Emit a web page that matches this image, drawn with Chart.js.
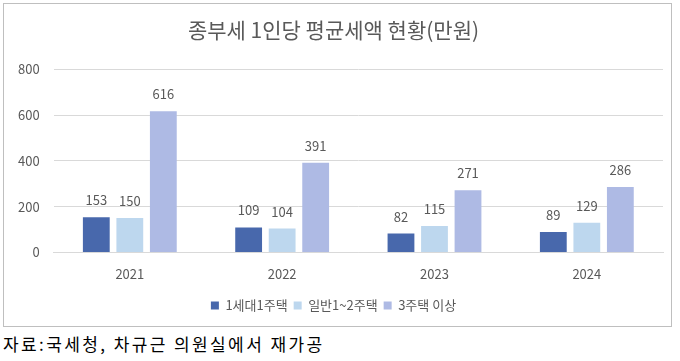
<!DOCTYPE html>
<html>
<head>
<meta charset="utf-8">
<script src="https://cdn.jsdelivr.net/npm/chart.js@4"></script>
<style>
  body { margin: 0; background: #fff; width: 680px; height: 361px; position: relative; overflow: hidden; }
  #box { position: absolute; left: 3px; top: 3px; width: 669px; height: 324px; border: 1px solid #BFBFBF; box-sizing: border-box; }
  #caption { position: absolute; left: 3px; top: 331px; font-family: "Noto Sans CJK KR", sans-serif; font-size: 17px; color: #000; letter-spacing: 2.4px; }
</style>
</head>
<body>
<div id="box"><canvas id="chart"></canvas></div>
<div id="caption">자료:국세청, 차규근 의원실에서 재가공</div>
<script>
// chart data
const years = ['2021', '2022', '2023', '2024'];
const seriesNames = ['1세대1주택', '일반1~2주택', '3주택 이상'];
const oneHouse = [153, 109, 82, 89];
const twoHouses = [150, 104, 115, 129];
const threePlus = [616, 391, 271, 286];
const yTicks = [0, 200, 400, 600, 800];

const colors = ['#4868AC', '#BDD7EE', '#AEBAE4'];
const fontFamily = '"Noto Sans CJK KR", "Noto Sans", sans-serif';

// draws the value above each bar
const valueLabels = {
    id: 'valueLabels',
    afterDatasetsDraw: function(chart) {
        const ctx = chart.ctx;
        ctx.save();
        ctx.font = '13px ' + fontFamily;
        ctx.fillStyle = '#595959';
        ctx.textAlign = 'center';
        ctx.textBaseline = 'middle';
        chart.data.datasets.forEach(function(ds, i) {
            chart.getDatasetMeta(i).data.forEach(function(bar, j) {
                ctx.fillText(ds.data[j], bar.x, bar.y - 17);
            });
        });
        ctx.restore();
    }
};

const ctx = document.getElementById('chart').getContext('2d');
new Chart(ctx, {
    type: 'bar',
    data: {
        labels: years,
        datasets: [
            { label: seriesNames[0], data: oneHouse, backgroundColor: colors[0] },
            { label: seriesNames[1], data: twoHouses, backgroundColor: colors[1] },
            { label: seriesNames[2], data: threePlus, backgroundColor: colors[2] }
        ]
    },
    options: {
        responsive: true,
        maintainAspectRatio: false,
        animation: false,
        layout: { padding: { left: 0, right: 8, top: 5, bottom: 4 } },
        datasets: { bar: { categoryPercentage: 0.66, barPercentage: 0.8 } },
        scales: {
            x: {
                grid: { display: false },
                border: { color: '#D9D9D9' },
                ticks: { color: '#595959', font: { family: fontFamily, size: 13 }, padding: 6 },
                afterFit: function(axis) { axis.height += 5; }
            },
            y: {
                min: 0,
                max: 800,
                afterBuildTicks: function(axis) {
                    axis.ticks = yTicks.map(function(v) { return { value: v }; });
                },
                grid: { color: '#D9D9D9', drawTicks: false },
                border: { display: false },
                ticks: { color: '#595959', font: { family: fontFamily, size: 13 }, padding: 14 }
            }
        },
        plugins: {
            title: {
                display: true,
                text: '종부세 1인당 평균세액 현황(만원)',
                color: '#595959',
                font: { family: fontFamily, size: 21, weight: 'normal' },
                padding: { top: 8, bottom: 27 }
            },
            legend: {
                position: 'bottom',
                labels: {
                    color: '#595959',
                    font: { family: fontFamily, size: 13 },
                    boxWidth: 8,
                    boxHeight: 8,
                    padding: 6
                }
            },
            tooltip: { enabled: false }
        }
    },
    plugins: [valueLabels]
});
</script>
</body>
</html>
